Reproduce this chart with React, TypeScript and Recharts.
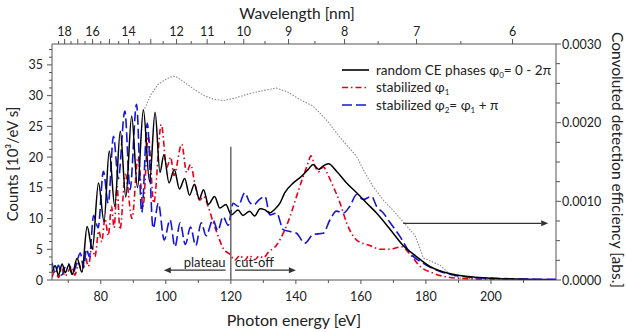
import React from 'react';
import { LineChart, Line, XAxis, YAxis, ReferenceLine } from 'recharts';

// ---------- data ----------
const blackEnergy = [65, 66, 67, 68.1, 69.1, 70.2, 71.2, 72.7, 74.2, 75.8, 77.4, 79.3, 81.0, 82.6, 84.3, 86.0, 87.7, 89.5, 91.3, 93.1, 95.0, 96.7, 98.2, 99.4, 101.0, 102.6, 104.2, 105.8, 107.3, 108.8, 110.3, 111.6, 113.1, 115.0, 116.6, 118.5, 120.1, 122.2, 123.7, 125.8, 127.3, 129.0, 130.5, 132.0, 133.5, 135.1, 136.6, 139.2, 141.8, 143.8, 145.3, 147.0, 148.5, 150.0, 152.5, 155.6, 158.7, 161.8, 164.8, 168.9, 173.0, 177.1, 181.2, 184.3, 189.4, 195, 200, 210, 220];
const blackCounts = [1.2, 2.3, 0.8, 2.6, 1.2, 2.5, 0.9, 3.5, 1.3, 8.7, 5.0, 15.8, 9.5, 21.0, 12.0, 24.2, 13.5, 26.7, 15.0, 27.7, 16.0, 27.3, 17.5, 20.4, 15.8, 18.0, 14.8, 16.5, 13.8, 15.6, 13.2, 14.7, 12.3, 13.6, 11.7, 12.3, 10.6, 11.4, 10.5, 11.2, 10.4, 11.6, 11.4, 10.9, 11.5, 12.5, 14.2, 15.8, 16.9, 18.0, 18.8, 18.0, 18.6, 18.9, 17.7, 15.8, 14.2, 12.5, 10.9, 8.3, 5.6, 3.8, 2.2, 1.5, 0.8, 0.45, 0.3, 0.12, 0.05];

const redEnergy = [65, 66, 67, 68, 69, 70, 71, 72, 73.2, 74.2, 75.2, 76.2, 77.3, 78.2, 79.4, 80.3, 81.3, 82.3, 83.3, 84.1, 85.0, 85.9, 87.6, 89.6, 91.5, 93.0, 94.6, 96.3, 98.6, 100.3, 101.5, 102.5, 104.9, 106.4, 107.6, 109.0, 110.4, 111.6, 113.0, 114.5, 116.2, 117.8, 119.7, 121.2, 122.8, 124.3, 125.6, 127.4, 128.7, 130.0, 131.5, 134.1, 136.1, 138.2, 140.2, 142.3, 143.8, 144.6, 145.9, 146.9, 148.5, 149.5, 151.0, 153.6, 155.6, 158.7, 162.8, 166.0, 168.9, 172.5, 175.1, 178.2, 182.3, 189.4, 200, 220];
const redCounts = [0.4, 1.6, 0.4, 1.9, 0.6, 1.4, 2.2, 0.8, 2.7, 1.4, 3.8, 2.2, 5.5, 3.8, 8.0, 6.2, 10.0, 7.2, 12.0, 8.5, 15.2, 8.2, 17.2, 10.0, 20.1, 12.0, 23.4, 12.5, 25.3, 18.3, 20.0, 17.0, 22.1, 17.5, 18.8, 15.5, 13.0, 13.6, 12.0, 9.5, 7.0, 5.0, 4.2, 3.2, 4.0, 3.2, 4.0, 3.3, 3.9, 3.6, 4.5, 5.7, 7.6, 10.3, 13.6, 16.9, 19.1, 20.2, 18.5, 17.6, 18.4, 17.5, 15.8, 12.5, 9.3, 6.5, 5.6, 5.0, 5.0, 5.4, 4.2, 2.2, 1.1, 0.3, 0.1, 0.05];

const blueEnergy = [65, 66, 67, 68, 69, 70.2, 71.2, 72.3, 73.7, 74.7, 75.6, 76.5, 77.8, 79.2, 80.8, 82.3, 83.9, 85.4, 87.4, 89.0, 91.0, 92.6, 94.3, 96.1, 97.7, 99.5, 101.3, 102.8, 104.4, 106.0, 107.6, 109.2, 110.9, 112.4, 114.5, 116.0, 117.6, 119.2, 120.7, 122.2, 124.3, 125.6, 127.0, 128.6, 130.5, 132.0, 134.1, 136.1, 138.2, 140.2, 142.8, 145.3, 148.4, 150.5, 152.5, 154.6, 156.6, 158.7, 160.7, 163.3, 164.8, 166.9, 168.9, 172.0, 175.1, 179.2, 184.3, 189.4, 195, 200, 210, 220];
const blueCounts = [2.8, 1.2, 2.4, 0.8, 2.1, 2.6, 1.0, 2.2, 4.4, 2.0, 5.0, 3.8, 10.5, 8.5, 17.7, 12.5, 23.4, 16.5, 27.5, 14.7, 28.6, 11.0, 25.5, 8.4, 12.5, 6.5, 9.8, 5.4, 9.3, 5.8, 8.6, 5.6, 9.3, 7.2, 9.8, 8.0, 10.3, 8.9, 12.5, 12.0, 14.2, 12.8, 12.2, 13.0, 13.6, 10.6, 10.9, 8.2, 7.9, 7.6, 6.0, 7.4, 7.6, 9.8, 11.2, 10.9, 12.0, 13.9, 13.1, 13.6, 12.0, 10.9, 9.4, 7.1, 4.4, 2.7, 1.4, 0.7, 0.4, 0.3, 0.15, 0.1];

const efficiencyEnergy = [93.5, 95.5, 97.5, 99.5, 101.5, 103, 105.5, 108.5, 111.5, 114.5, 117.6, 121, 125, 129, 134, 137.5, 141, 145.3, 149.5, 153.6, 158.7, 161, 163.7, 167, 170, 173, 176.6, 178, 179.2, 182, 184.3, 187.4, 191, 200, 220];
const efficiencyValues = [0.00218, 0.00236, 0.00248, 0.00254, 0.00258, 0.00259, 0.00252, 0.00243, 0.00235, 0.0023, 0.00228, 0.00231, 0.00236, 0.0024, 0.00244, 0.00239, 0.0023, 0.00221, 0.00203, 0.00181, 0.00157, 0.00138, 0.00119, 0.00101, 0.00088, 0.00074, 0.00057, 0.00042, 0.00028, 0.00023, 0.00019, 0.00007, 0.00002, 0.00001, 0];

const energyMajorTicks = [80, 100, 120, 140, 160, 180, 200];
const energyMinorTicks = [70, 90, 110, 130, 150, 170, 190, 210];
const countsMajorTicks = [0, 5, 10, 15, 20, 25, 30, 35];
const countsMinorTicks = [1.25, 2.5, 3.75, 6.25, 7.5, 8.75, 11.25, 12.5, 13.75, 16.25, 17.5, 18.75, 21.25, 22.5, 23.75, 26.25, 27.5, 28.75, 31.25, 32.5, 33.75, 36.25, 37.5];
const efficiencyMajorTicks = [0, 0.001, 0.002, 0.003];
const efficiencyMinorTicks = [0.00025, 0.0005, 0.00075, 0.00125, 0.0015, 0.00175, 0.00225, 0.0025, 0.00275];
const wavelengthLabelled = [18, 16, 14, 12, 11, 10, 9, 8, 7, 6];
const wavelengthMajorTicks = [18, 17, 16, 15, 14, 13, 12, 11, 10, 9, 8, 7, 6];
const wavelengthMinorTicks = [18.5, 17.5, 16.5, 15.5, 14.5, 13.5, 12.5, 11.5, 10.5, 9.5, 8.5, 7.5, 6.5];

const HC = 1239.84; // eV * nm

const rows = (e: number[], v: number[]) => e.map((x, i) => ({ e: x, v: v[i] }));
const blackData = rows(blackEnergy, blackCounts);
const redData = rows(redEnergy, redCounts);
const blueData = rows(blueEnergy, blueCounts);
const effData = rows(efficiencyEnergy, efficiencyValues);

const topTickEnergies = [...wavelengthMajorTicks, ...wavelengthMinorTicks].map((w) => HC / w).sort((a, b) => a - b);

const FONT = "Lato, 'Open Sans', 'Noto Sans', sans-serif";
const AXIS = '#555';
const TXT = '#222';
const TICK_FS = 12.5;

const BottomTick = (props: any) => {
  const { x, y, payload } = props;
  const v = payload.value;
  const major = energyMajorTicks.includes(v);
  return (
    <g>
      <line x1={x} y1={y} x2={x} y2={y + (major ? 4 : 3)} stroke={AXIS} strokeWidth={1} />
      {major && (
        <text x={x} y={y + 21} textAnchor="middle" fontSize={TICK_FS} fontFamily={FONT} fill={TXT}>
          {v}
        </text>
      )}
    </g>
  );
};

const TopTick = (props: any) => {
  const { x, y, payload } = props;
  const w = Math.round((HC / payload.value) * 2) / 2;
  const major = Number.isInteger(w);
  const labelled = wavelengthLabelled.includes(w);
  return (
    <g>
      <line x1={x} y1={y} x2={x} y2={y - (major ? 5 : 3)} stroke={AXIS} strokeWidth={1} />
      {labelled && (
        <text x={x} y={y - 8} textAnchor="middle" fontSize={TICK_FS} fontFamily={FONT} fill={TXT}>
          {w}
        </text>
      )}
    </g>
  );
};

const LeftTick = (props: any) => {
  const { x, y, payload } = props;
  const v = payload.value;
  const major = countsMajorTicks.includes(v);
  return (
    <g>
      <line x1={x} y1={y} x2={x - (major ? 5 : 3)} y2={y} stroke={AXIS} strokeWidth={1} />
      {major && (
        <text x={x - 9} y={y + 4.5} textAnchor="end" fontSize={TICK_FS} fontFamily={FONT} fill={TXT}>
          {v}
        </text>
      )}
    </g>
  );
};

const RightTick = (props: any) => {
  const { x, y, payload } = props;
  const v = payload.value;
  const major = efficiencyMajorTicks.some((m) => Math.abs(m - v) < 1e-9);
  return (
    <g>
      <line x1={x} y1={y} x2={x + (major ? 5 : 4)} y2={y} stroke={AXIS} strokeWidth={1} />
      {major && (
        <text x={x + 6} y={y + 4.5} textAnchor="start" fontSize={TICK_FS} fontFamily={FONT} fill={TXT}>
          {v.toFixed(4)}
        </text>
      )}
    </g>
  );
};

const arrowShape = (label: string, side: 'above-end' | 'above-start' | 'none') => (p: any) => {
  const { x1, y1, x2, y2 } = p;
  const dir = x2 > x1 ? 1 : -1;
  const head = 7;
  return (
    <g>
      <line x1={x1} y1={y1} x2={x2 - dir * head} y2={y2} stroke="#333" strokeWidth={1.2} />
      <polygon points={`${x2},${y2} ${x2 - dir * head},${y2 - 3} ${x2 - dir * head},${y2 + 3}`} fill="#333" />
      {side === 'above-end' && (
        <text x={x1} y={y1 - 3} textAnchor="end" fontSize={13} fontFamily={FONT} fill={TXT}>
          {label}
        </text>
      )}
      {side === 'above-start' && (
        <text x={x1} y={y1 - 3} textAnchor="start" fontSize={13} fontFamily={FONT} fill={TXT}>
          {label}
        </text>
      )}
    </g>
  );
};

const LegendOverlay = () => (
  <svg width={626} height={332} style={{ position: 'absolute', left: 0, top: 0, pointerEvents: 'none' }}>
    <g fontFamily={FONT} fill={TXT}>
      <text x={297} y={19} textAnchor="middle" fontSize={15.5}>Wavelength [nm]</text>
      <text x={294} y={326} textAnchor="middle" fontSize={16}>Photon energy [eV]</text>
      <text transform="translate(18,164) rotate(-90)" textAnchor="middle" fontSize={15}>
        Counts  [10³/eV s]
      </text>
      <text transform="translate(612,160) rotate(90)" textAnchor="middle" fontSize={15.5}>
        Convoluted detection efficiency [abs.]
      </text>
    </g>
    <g fontFamily={FONT} fill={TXT} fontSize={13.5}>
      <line x1={342} y1={70} x2={369} y2={70} stroke="#000" strokeWidth={1.6} />
      <text x={376} y={74.5}>
        random CE phases φ<tspan dy={3} fontSize={8}>0</tspan>
        <tspan dy={-3}>= 0 - 2π</tspan>
      </text>
      <line x1={342} y1={87.5} x2={369} y2={87.5} stroke="#e3001b" strokeWidth={1.6} strokeDasharray="6 3 1.5 3" />
      <text x={376} y={92}>
        stabilized φ<tspan dy={3} fontSize={8}>1</tspan>
      </text>
      <line x1={342} y1={105} x2={369} y2={105} stroke="#1515d8" strokeWidth={1.6} strokeDasharray="10 4" />
      <text x={376} y={109.5}>
        stabilized φ<tspan dy={3} fontSize={8}>2</tspan>
        <tspan dy={-3}>= φ</tspan>
        <tspan dy={3} fontSize={8}>1</tspan>
        <tspan dy={-3}> + π</tspan>
      </text>
    </g>
  </svg>
);

export default function App() {
  return (
    <div style={{ position: 'relative', width: 626, height: 332, background: '#fff' }}>
      <style>{'body{margin:0}'}</style>
      <LineChart width={626} height={332} margin={{ top: 24, right: 10, bottom: 22, left: 22 }}>
        <XAxis
          xAxisId="bottom"
          type="number"
          dataKey="e"
          domain={[65, 220]}
          allowDataOverflow
          ticks={[...energyMajorTicks, ...energyMinorTicks].sort((a, b) => a - b)}
          interval={0}
          tick={<BottomTick />}
          tickLine={false}
          tickSize={0}
          tickMargin={0}
          height={30}
          axisLine={{ stroke: AXIS }}
        />
        <XAxis
          xAxisId="top"
          orientation="top"
          type="number"
          dataKey="e"
          domain={[65, 220]}
          allowDataOverflow
          ticks={topTickEnergies}
          interval={0}
          tick={<TopTick />}
          tickLine={false}
          tickSize={0}
          tickMargin={0}
          height={20}
          axisLine={{ stroke: AXIS }}
        />
        <YAxis
          yAxisId="left"
          type="number"
          domain={[0, 38.4]}
          allowDataOverflow
          ticks={[...countsMajorTicks, ...countsMinorTicks].sort((a, b) => a - b)}
          interval={0}
          tick={<LeftTick />}
          tickLine={false}
          tickSize={0}
          tickMargin={0}
          width={30}
          axisLine={{ stroke: AXIS }}
        />
        <YAxis
          yAxisId="right"
          orientation="right"
          type="number"
          domain={[0, 0.003]}
          allowDataOverflow
          ticks={[...efficiencyMajorTicks, ...efficiencyMinorTicks].sort((a, b) => a - b)}
          interval={0}
          tick={<RightTick />}
          tickLine={false}
          tickSize={0}
          tickMargin={0}
          width={60}
          axisLine={{ stroke: AXIS }}
        />
        <Line xAxisId="bottom" yAxisId="right" data={effData} dataKey="v" type="linear" stroke="#8a8a8a" strokeWidth={1.1} strokeDasharray="1.5 1.5" dot={false} isAnimationActive={false} />
        <Line xAxisId="bottom" yAxisId="left" data={redData} dataKey="v" type="monotone" stroke="#e3001b" strokeWidth={1.6} strokeDasharray="6 3 1.5 3" dot={false} isAnimationActive={false} />
        <Line xAxisId="bottom" yAxisId="left" data={blueData} dataKey="v" type="monotone" stroke="#1515d8" strokeWidth={1.6} strokeDasharray="10 4" dot={false} isAnimationActive={false} />
        <Line xAxisId="bottom" yAxisId="left" data={blackData} dataKey="v" type="monotone" stroke="#000" strokeWidth={1.5} dot={false} isAnimationActive={false} />
        <ReferenceLine xAxisId="bottom" yAxisId="left" segment={[{ x: 120, y: 0 }, { x: 120, y: 21.7 }]} stroke="#444" strokeWidth={1.2} />
        <ReferenceLine xAxisId="bottom" yAxisId="left" segment={[{ x: 118.4, y: 1.6 }, { x: 99.4, y: 1.6 }]} shape={arrowShape('plateau', 'above-end')} />
        <ReferenceLine xAxisId="bottom" yAxisId="left" segment={[{ x: 121.3, y: 1.6 }, { x: 140, y: 1.6 }]} shape={arrowShape('cut-off', 'above-start')} />
        <ReferenceLine xAxisId="bottom" yAxisId="right" segment={[{ x: 173, y: 0.00072 }, { x: 217.6, y: 0.00072 }]} shape={arrowShape('', 'none')} />
      </LineChart>
      <LegendOverlay />
    </div>
  );
}
